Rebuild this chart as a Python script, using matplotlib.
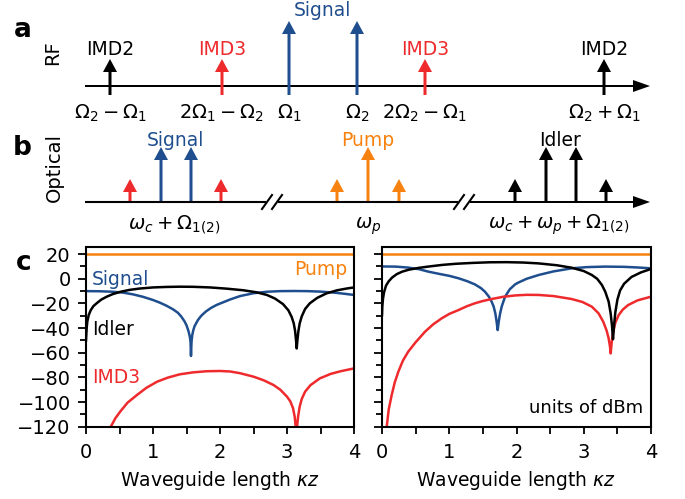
import numpy as np
import matplotlib
matplotlib.use("Agg")
import matplotlib.pyplot as plt

plt.rcParams['font.family'] = ['DejaVu Sans']
plt.rcParams['mathtext.fontset'] = 'dejavusans'

BLUE = '#1f4e8e'
RED = '#ee2a2d'
ORANGE = '#f7820f'
BLACK = 'black'

# ---- panel a (RF spectrum, schematic positions in figure px) ----
rf_x = [110, 222, 289, 357, 425, 604]
rf_h = [27, 27, 65, 65, 27, 27]
rf_col = [BLACK, RED, BLUE, BLUE, RED, BLACK]
rf_labels = [r'$\Omega_2-\Omega_1$', r'$2\Omega_1-\Omega_2$', r'$\Omega_1$',
             r'$\Omega_2$', r'$2\Omega_2-\Omega_1$', r'$\Omega_2+\Omega_1$']
rf_tags = ['IMD2', 'IMD3', None, None, 'IMD3', 'IMD2']

# ---- panel b (optical spectrum) ----
opt_x = [130, 161, 191, 221, 337, 368, 399, 515, 546, 576, 606]
opt_h = [23, 55, 55, 23, 23, 55, 23, 23, 55, 55, 23]
opt_col = [RED, BLUE, BLUE, RED, ORANGE, ORANGE, ORANGE, BLACK, BLACK, BLACK, BLACK]
opt_breaks = [272, 464]
opt_labels = [(174, r'$\omega_c+\Omega_{1(2)}$'), (368, r'$\omega_p$'),
              (559, r'$\omega_c+\omega_p+\Omega_{1(2)}$')]
opt_tags = [(175, 'Signal', BLUE), (368, 'Pump', ORANGE), (560, 'Idler', BLACK)]

# ---- panel c, left: power (dBm) vs kz ----
pump_l_x = [0, 4]
pump_l_y = [19.8, 19.8]
sig_l_x = [0, 0.2, 0.4, 0.55, 0.7, 0.85, 1.0, 1.1, 1.2, 1.3, 1.37, 1.42, 1.47, 1.5, 1.53,
           1.55, 1.56, 1.567, 1.575, 1.585, 1.6, 1.62, 1.67, 1.72, 1.79, 1.87, 1.95, 2.05,
           2.15, 2.3, 2.5, 2.7, 2.9, 3.1, 3.3, 3.5, 3.7, 3.85, 4.0]
sig_l_y = [-10, -10.1, -10.5, -11.2, -12.6, -14.6, -17.2, -19.3, -21.8, -24.8, -27.5,
           -30.5, -34.5, -37.7, -42.5, -47, -51, -62.6, -51, -46, -42, -38.5, -33.5, -30,
           -26.5, -23.5, -21.2, -19, -16.8, -14, -11.7, -10.5, -10.0, -9.9, -10.0, -10.4,
           -11.2, -12.1, -13.1]
idl_l_x = [0, 0.01, 0.02, 0.04, 0.07, 0.11, 0.16, 0.23, 0.31, 0.4, 0.51, 0.65, 0.8, 1.0,
           1.2, 1.4, 1.6, 1.85, 2.1, 2.35, 2.55, 2.7, 2.82, 2.94, 3.02, 3.07, 3.1, 3.12,
           3.135, 3.145, 3.155, 3.17, 3.19, 3.22, 3.27, 3.34, 3.45, 3.59, 3.75, 3.9, 4.0]
idl_l_y = [-50, -40, -34.5, -29.5, -25.5, -22.2, -19.8, -16.8, -14.5, -12.4, -10.6, -9.0,
           -7.9, -7.0, -6.6, -6.4, -6.5, -7.0, -8.0, -9.3, -11.0, -13.1, -16.0, -20.5,
           -25.5, -31, -36, -42, -50, -56.5, -50, -42.5, -36, -30.5, -24.5, -19.9, -15.5,
           -11.8, -9.3, -7.8, -7.0]
imd_l_x = [0.3, 0.37, 0.44, 0.51, 0.62, 0.76, 0.9, 1.06, 1.22, 1.4, 1.6, 1.8, 2.0, 2.15,
           2.3, 2.5, 2.65, 2.8, 2.9, 3.0, 3.05, 3.09, 3.115, 3.13, 3.14, 3.15, 3.165, 3.19,
           3.22, 3.27, 3.35, 3.49, 3.65, 3.8, 4.0]
imd_l_y = [-135, -120, -113, -107.8, -100.5, -94.3, -88.5, -83.5, -80.2, -77.5, -75.9,
           -75.0, -74.8, -75.2, -76.6, -79.4, -82.3, -86.2, -90, -95.6, -99.5, -105, -112,
           -120, -140, -120, -112, -103.5, -97.5, -91.6, -86.3, -80.8, -77.2, -75.0, -72.7]

# ---- panel c, right ----
pump_r_x = [0, 4]
pump_r_y = [19.8, 19.8]
sig_r_x = [0, 0.2, 0.39, 0.55, 0.69, 0.85, 1.0, 1.14, 1.27, 1.38, 1.47, 1.53, 1.59, 1.63,
           1.66, 1.685, 1.705, 1.72, 1.735, 1.755, 1.78, 1.83, 1.9, 1.98, 2.03, 2.15, 2.33,
           2.55, 2.82, 3.05, 3.32, 3.6, 3.8, 4.0]
sig_r_y = [10.0, 9.9, 9.1, 7.8, 5.8, 4.0, 2.4, 0.4, -2.0, -4.5, -7.5, -10.4, -14.5, -18.5,
           -22.5, -28, -35, -41.6, -35, -28.5, -22.5, -14.5, -8.5, -4.5, -3.0, 0.0, 3.1,
           6.0, 8.5, 9.5, 9.9, 9.7, 9.2, 8.5]
idl_r_x = [0, 0.005, 0.015, 0.03, 0.06, 0.1, 0.15, 0.22, 0.3, 0.4, 0.55, 0.7, 0.9, 1.1,
           1.35, 1.6, 1.85, 2.1, 2.33, 2.6, 2.82, 3.0, 3.12, 3.2, 3.27, 3.32, 3.37, 3.40,
           3.42, 3.435, 3.45, 3.47, 3.5, 3.54, 3.6, 3.71, 3.85, 4.0]
idl_r_y = [-29.5, -22, -16, -11, -5.5, -2.0, 1.0, 3.8, 5.8, 7.4, 8.9, 10.0, 11.3, 12.2,
           12.9, 13.4, 13.5, 13.2, 12.5, 11.0, 9.0, 6.3, 3.1, 0.0, -5.0, -10.5, -18.5,
           -28, -38, -49, -38, -27, -17, -9.5, -4, 1.5, 5.2, 8.0]
imd_r_x = [0.03, 0.07, 0.1, 0.144, 0.19, 0.243, 0.31, 0.39, 0.5, 0.64, 0.76, 0.887, 1.0,
           1.14, 1.26, 1.38, 1.5, 1.63, 1.8, 1.98, 2.15, 2.33, 2.55, 2.82, 2.98, 3.12, 3.22,
           3.29, 3.34, 3.37, 3.39, 3.40, 3.415, 3.43, 3.47, 3.52, 3.58, 3.66, 3.8, 4.0]
imd_r_y = [-140, -120, -106, -94.3, -84, -75.4, -66.5, -59.1, -51.5, -42.9, -37, -32.1,
           -28.5, -25.3, -22.3, -19.9, -18.0, -16.4, -14.6, -13.5, -13.0, -13.1, -14.0,
           -16.4, -18.8, -22.6, -28, -34.8, -42, -48.3, -55, -60.5, -52, -45, -35.5, -29.4,
           -25, -21.3, -17.5, -14.5]

fig = plt.figure(figsize=(6.85, 4.99), dpi=100)

# schematic overlay in pixel units
ax0 = fig.add_axes([0, 0, 1, 1])
ax0.set_xlim(0, 685)
ax0.set_ylim(499, 0)
ax0.axis('off')

def spike(x, y0, h, c):
    ax0.arrow(x, y0, 0, -h, width=3, head_width=14, head_length=13,
              length_includes_head=True, fc=c, ec='none')

# panel a
ya = 86
ax0.arrow(85, ya, 565, 0, width=2, head_width=12, head_length=17,
          length_includes_head=True, fc='k', ec='none')
for x, h, c, lab, tag in zip(rf_x, rf_h, rf_col, rf_labels, rf_tags):
    spike(x, ya + 9, h + 9, c)
    ax0.text(x, 119, lab, ha='center', va='baseline', fontsize=14)
    if tag:
        ax0.text(x, 55, tag, ha='center', va='baseline', fontsize=13.5, color=c)
ax0.text(322, 16, 'Signal', ha='center', va='baseline', fontsize=13.5, color=BLUE)
ax0.text(53, 53, 'RF', rotation=90, ha='center', va='center', fontsize=14)
ax0.text(23, 37, 'a', ha='center', va='baseline', fontsize=19, fontweight='bold')

# panel b
yb = 202
segs = [85] + [v for b in opt_breaks for v in (b - 6, b + 6)] + [650]
for i in range(0, len(segs) - 2, 2):
    ax0.plot([segs[i], segs[i + 1]], [yb, yb], color='k', lw=1.5, solid_capstyle='butt')
ax0.arrow(segs[-2], yb, segs[-1] - segs[-2], 0, width=2, head_width=12, head_length=17,
          length_includes_head=True, fc='k', ec='none')
for b in opt_breaks:
    for d in (-5, 5):
        ax0.plot([b + d - 5, b + d + 5], [yb + 7, yb - 7], color='k', lw=1.5)
for x, h, c in zip(opt_x, opt_h, opt_col):
    spike(x, yb, h, c)
for x, lab in opt_labels:
    ax0.text(x, 229, lab, ha='center', va='baseline', fontsize=14)
for x, lab, c in opt_tags:
    ax0.text(x, 146, lab, ha='center', va='baseline', fontsize=13.5, color=c)
ax0.text(54, 167, 'Optical', rotation=90, ha='center', va='center', fontsize=14)
ax0.text(22, 155, 'b', ha='center', va='baseline', fontsize=19, fontweight='bold')
ax0.text(24, 270, 'c', ha='center', va='baseline', fontsize=19, fontweight='bold')

# panel c
bottom = 1 - 426.7 / 499
height = (426.7 - 247.5) / 499
axL = fig.add_axes([86 / 685, bottom, 268 / 685, height])
axR = fig.add_axes([382 / 685, bottom, 269 / 685, height])

series = [
    (axL, pump_l_x, pump_l_y, sig_l_x, sig_l_y, idl_l_x, idl_l_y, imd_l_x, imd_l_y),
    (axR, pump_r_x, pump_r_y, sig_r_x, sig_r_y, idl_r_x, idl_r_y, imd_r_x, imd_r_y),
]
for ax, px, py, sx, sy, ix, iy, mx, my in series:
    ax.plot(px, py, color=ORANGE, lw=1.8)
    ax.plot(sx, sy, color=BLUE, lw=1.8)
    ax.plot(mx, my, color=RED, lw=1.8)
    ax.plot(ix, iy, color=BLACK, lw=1.8)
    ax.set_xlim(0, 4)
    ax.set_ylim(-120, 25.4)
    ax.set_xticks([0, 1, 2, 3, 4])
    ax.set_xticks([0.5, 1.5, 2.5, 3.5], minor=True)
    ax.set_yticks(np.arange(-120, 21, 20))
    ax.set_yticks(np.arange(-110, 21, 20), minor=True)
    ax.tick_params(which='both', direction='out', width=1.3, labelsize=14)
    ax.tick_params(axis='y', which='major', length=6, pad=5)
    ax.tick_params(axis='y', which='minor', length=4)
    ax.tick_params(axis='x', which='both', length=5, pad=7)
    for s in ax.spines.values():
        s.set_linewidth(1.5)
    ax.set_xlabel(r'Waveguide length $\kappa z$', fontsize=13.5, labelpad=5)
    ax.patch.set_alpha(0)
axR.tick_params(labelleft=False)

axL.text(3.9, 3.1, 'Pump', color=ORANGE, ha='right', va='baseline', fontsize=13.5)
axL.text(0.09, -5.0, 'Signal', color=BLUE, ha='left', va='baseline', fontsize=13.5)
axL.text(0.09, -45.6, 'Idler', color=BLACK, ha='left', va='baseline', fontsize=13.5)
axL.text(0.09, -84.8, 'IMD3', color=RED, ha='left', va='baseline', fontsize=13.5)
axR.text(3.88, -109.2, 'units of dBm', ha='right', va='baseline', fontsize=13)

fig.savefig('out.png', dpi=100)
